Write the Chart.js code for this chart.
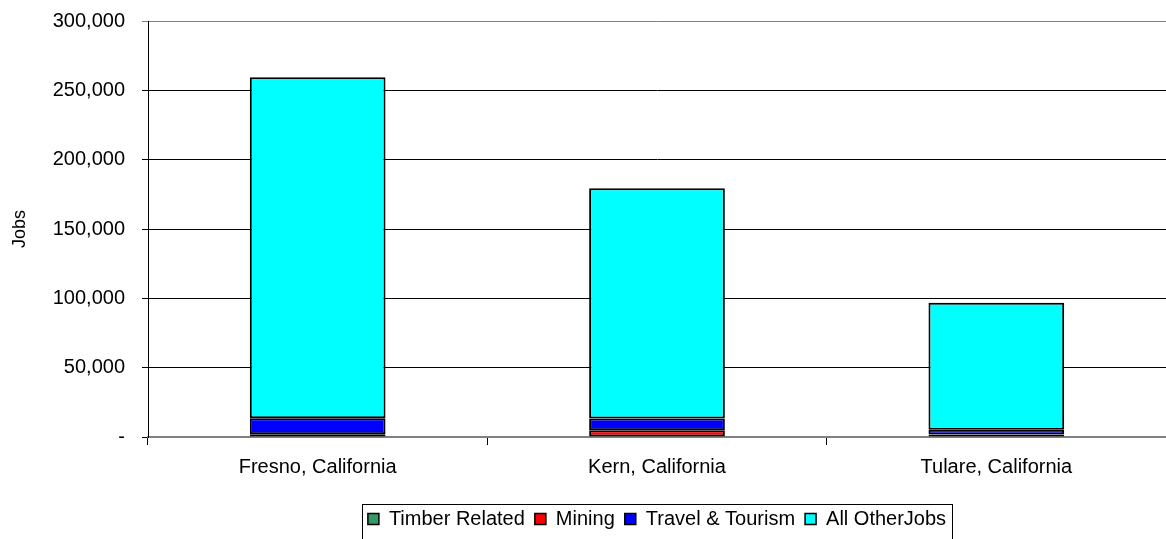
<!DOCTYPE html>
<html>
<head>
<meta charset="utf-8">
<script src="https://cdn.jsdelivr.net/npm/chart.js@4.4.0/dist/chart.umd.min.js"></script>
<style>
  html, body { margin: 0; padding: 0; background: #fff; }
  #wrap { width: 1166px; height: 539px; }
</style>
</head>
<body>
<div id="wrap"><canvas id="jobsChart" width="1166" height="539"></canvas></div>
<script>
// counties and job counts
const counties = ['Fresno, California', 'Kern, California', 'Tulare, California'];
const timberJobs = [800, 300, 1500];
const miningJobs = [1200, 4500, 300];
const travelJobs = [11500, 8500, 3500];
const otherJobs = [246000, 166000, 91500];
const yTicks = [0, 50000, 100000, 150000, 200000, 250000, 300000];

const FONT = 'Liberation Sans, Arial, sans-serif';

// box round the legend
const legendBorder = {
	id: 'legendBorder',
	afterDraw(chart) {
		const boxes = chart.legend.legendHitBoxes;
		if (!boxes || !boxes.length) return;
		let left = Infinity, right = -Infinity, top = Infinity;
		boxes.forEach(b => {
			left = Math.min(left, b.left);
			right = Math.max(right, b.left + b.width);
			top = Math.min(top, b.top);
		});
		const ctx = chart.ctx;
		ctx.save();
		ctx.strokeStyle = '#000';
		ctx.lineWidth = 1;
		ctx.strokeRect(Math.round(left - 6) + 0.5, Math.round(top - 5) + 0.5,
			Math.round(right - left + 12), 40);
		ctx.restore();
	}
};

const ctx = document.getElementById('jobsChart').getContext('2d');
new Chart(ctx, {
	type: 'bar',
	data: {
		labels: counties,
		datasets: [
			{ label: 'Timber Related', data: timberJobs, backgroundColor: '#339966' },
			{ label: 'Mining', data: miningJobs, backgroundColor: '#FF0000' },
			{ label: 'Travel & Tourism', data: travelJobs, backgroundColor: '#0000FF' },
			{ label: 'All OtherJobs', data: otherJobs, backgroundColor: '#00FFFF' }
		].map(d => Object.assign(d, {
			borderColor: '#000',
			borderWidth: 2,
			borderSkipped: false,
			barPercentage: 0.4,
			categoryPercentage: 1.0
		}))
	},
	options: {
		responsive: false,
		animation: false,
		layout: { padding: { top: 0, right: 0, left: 0, bottom: 0 } },
		plugins: {
			legend: {
				position: 'bottom',
				fullSize: false,
				labels: {
					color: '#000',
					font: { family: FONT, size: 20 },
					boxWidth: 11,
					boxHeight: 11,
					padding: 10,
					generateLabels(chart) {
						return chart.data.datasets.map((d, i) => ({
							text: d.label,
							fillStyle: d.backgroundColor,
							strokeStyle: '#000',
							lineWidth: 1.5,
							datasetIndex: i
						}));
					}
				}
			},
			tooltip: { enabled: false }
		},
		scales: {
			x: {
				stacked: true,
				afterFit(axis) { axis.height = 62; },
				grid: {
					offset: true,
					drawOnChartArea: false,
					drawTicks: true,
					tickLength: 8,
					color: '#000'
				},
				border: { color: '#808080', width: 2 },
				ticks: {
					color: '#000',
					font: { family: FONT, size: 20 },
					padding: 10
				}
			},
			y: {
				stacked: true,
				min: 0,
				max: 300000,
				afterBuildTicks(axis) {
					axis.ticks = yTicks.map(v => ({ value: v }));
				},
				afterFit(axis) {
					axis.width = 148;
					axis.paddingTop = 21;
				},
				grid: {
					color: ctx => ctx.tick && ctx.tick.value === 300000 ? '#808080' : '#000',
					tickLength: 6,
					lineWidth: 1
				},
				border: { color: '#000', width: 1 },
				ticks: {
					color: '#000',
					font: { family: FONT, size: 20 },
					padding: 17,
					callback: v => v === 0 ? '-' : v.toLocaleString('en-US')
				},
				title: {
					display: true,
					text: 'Jobs',
					color: '#000',
					font: { family: FONT, size: 18 },
					padding: { top: 9, bottom: 4 }
				}
			}
		}
	},
	plugins: [legendBorder]
});
</script>
</body>
</html>
